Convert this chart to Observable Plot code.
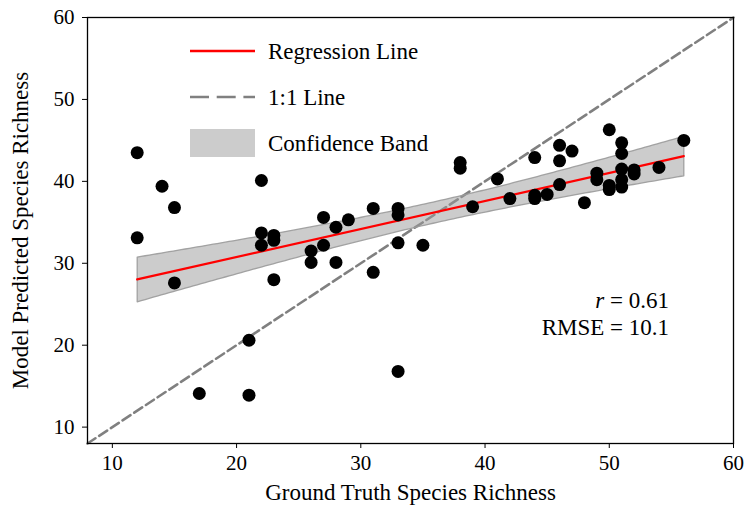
<!DOCTYPE html>
<html><head><meta charset="utf-8">
<script src="https://cdn.jsdelivr.net/npm/d3@7"></script>
<script src="https://cdn.jsdelivr.net/npm/@observablehq/plot@0.6"></script>
<style>body{margin:0;background:#fff}</style>
</head><body><div id="chart"></div>
<script>
const truth = [12,12,14,15,15,17,21,21,22,22,22,23,23,23,26,26,27,27,28,28,29,31,31,33,33,33,33,35,38,38,39,41,42,44,44,44,45,46,46,46,47,48,49,49,50,50,50,51,51,51,51,51,52,52,54,56];
const predicted = [43.5,33.1,39.4,36.8,27.6,14.1,20.6,13.9,40.1,33.7,32.2,33.4,32.8,28.0,31.5,30.1,35.6,32.2,34.4,30.1,35.3,36.7,28.9,36.7,35.9,32.5,16.8,32.2,42.3,41.6,36.9,40.3,37.9,42.9,38.3,37.9,38.4,44.4,42.5,39.6,43.7,37.4,41.0,40.2,46.3,39.5,39.0,44.7,43.4,41.5,40.2,39.3,41.4,40.9,41.7,45.0];
const axisDomain = [8, 60];
const tickValues = [10, 20, 30, 40, 50, 60];
const legendLabels = ["Regression Line", "1:1 Line", "Confidence Band"];
const statR = "0.61";
const statRMSE = "10.1";

const data = truth.map((t, i) => ({x: t, y: predicted[i]}));
const identity = axisDomain.map(v => ({x: v, y: v}));
const font = "'Liberation Serif', 'Times New Roman', serif";

const plot = Plot.plot({
  width: 745, height: 506,
  marginLeft: 87, marginRight: 12, marginTop: 17, marginBottom: 63,
  style: {fontFamily: font, fontSize: "21px", color: "black", background: "white", overflow: "visible"},
  x: {domain: axisDomain},
  y: {domain: axisDomain},
  marks: [
    Plot.line(identity, {x: "x", y: "y", stroke: "#808080", strokeWidth: 2.6, strokeDasharray: "9.5,4.5"}),
    Plot.linearRegressionY(data, {x: "x", y: "y", stroke: "red", strokeWidth: 2.2, fill: "#9a9a9a", fillOpacity: 0.5, ci: 0.9}),
    Plot.dot(data, {x: "x", y: "y", r: 6.5, fill: "black", stroke: "none"}),
    Plot.frame({stroke: "black", strokeWidth: 1.3}),
    Plot.axisX({ticks: tickValues, tickSize: 5, tickPadding: 7, fontSize: 21, label: null}),
    Plot.axisY({ticks: tickValues, tickSize: 5, tickPadding: 8, fontSize: 21, label: null}),
    Plot.axisX({ticks: [], tickSize: 0, label: "Ground Truth Species Richness", labelAnchor: "center", labelArrow: "none", labelOffset: 56, fontSize: 23}),
    Plot.axisY({ticks: [], tickSize: 0, label: "Model Predicted Species Richness", labelAnchor: "center", labelArrow: "none", labelOffset: 76, fontSize: 23})
  ]
});
document.getElementById("chart").appendChild(plot);

const svg = d3.select(plot);
// outline the confidence band like the reference
svg.selectAll("path").filter(function() {
  const f = this.getAttribute("fill") || (this.parentNode && this.parentNode.getAttribute("fill"));
  return f === "#9a9a9a";
}).attr("stroke", "#9a9a9a").attr("stroke-width", 1.3).attr("stroke-opacity", 0.9);

const lg = svg.append("g").attr("font-family", font).attr("font-size", 23).attr("text-anchor", "start");
lg.append("line").attr("x1", 190).attr("x2", 255).attr("y1", 51).attr("y2", 51).attr("stroke", "red").attr("stroke-width", 2.5);
lg.append("line").attr("x1", 190).attr("x2", 255).attr("y1", 97).attr("y2", 97).attr("stroke", "#808080").attr("stroke-width", 2.6).attr("stroke-dasharray", "19,7.7");
lg.append("rect").attr("x", 190).attr("y", 129).attr("width", 65).attr("height", 28).attr("fill", "#cccccc");
legendLabels.forEach((t, i) => {
  lg.append("text").attr("x", 268).attr("y", 51 + i * 46).attr("dy", "0.33em").text(t);
});
const st = svg.append("g").attr("font-family", font).attr("font-size", 23).attr("text-anchor", "end");
const t1 = st.append("text").attr("x", 669).attr("y", 308);
t1.append("tspan").attr("font-style", "italic").text("r");
t1.append("tspan").text(" = " + statR);
st.append("text").attr("x", 669).attr("y", 335).text("RMSE = " + statRMSE);
</script>
</body></html>
